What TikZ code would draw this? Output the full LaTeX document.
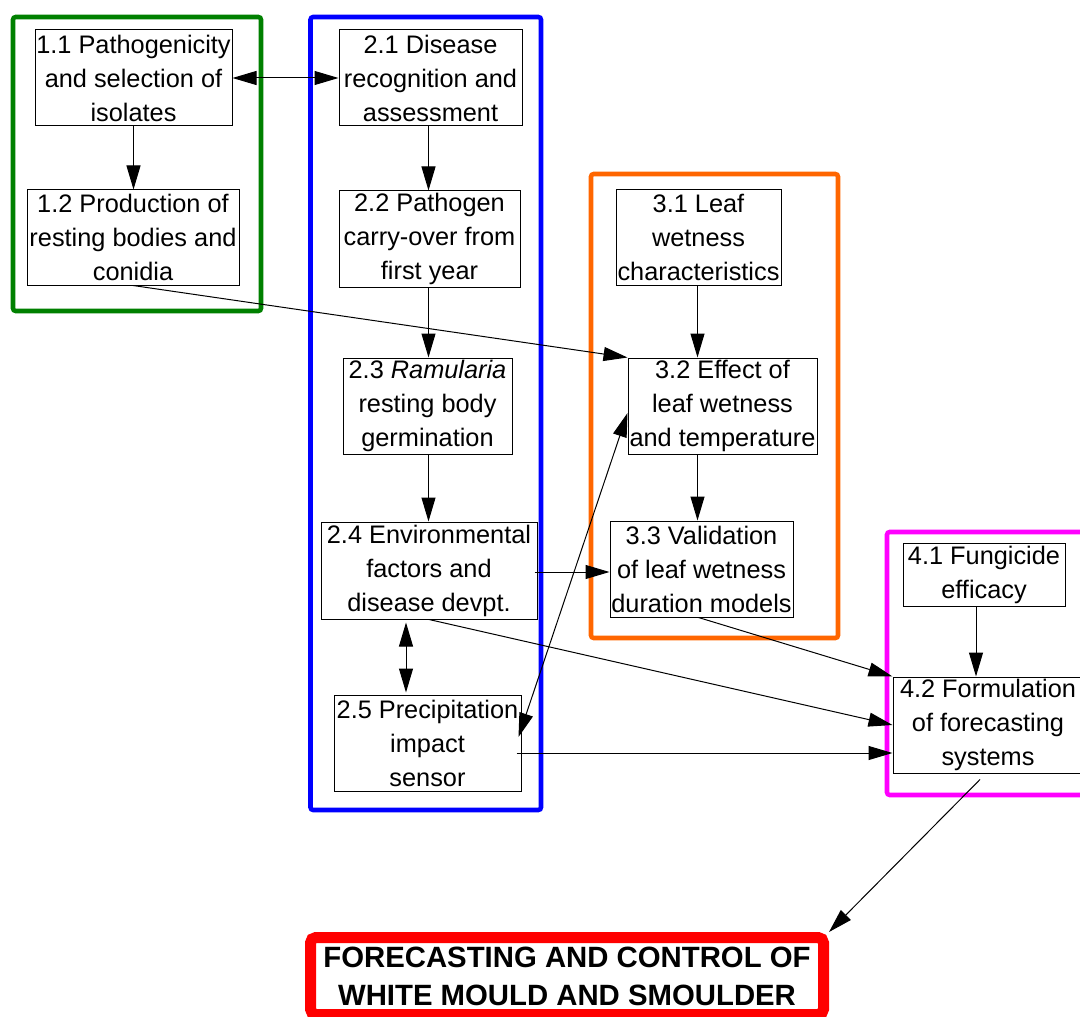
\documentclass[tikz,border=0pt]{standalone}
\usepackage{fontspec}
\setmainfont{Liberation Sans}
\usetikzlibrary{arrows.meta,calc}
\definecolor{fgreen}{RGB}{0,128,0}
\definecolor{fblue}{RGB}{0,0,255}
\definecolor{forange}{RGB}{255,102,0}
\definecolor{fmag}{RGB}{255,0,255}
\definecolor{fred}{RGB}{255,0,0}
\begin{document}
\begin{tikzpicture}[x=0.75pt,y=-0.75pt,
  bx/.style={draw, line width=0.75pt, inner sep=0pt, align=center, font=\fontsize{19pt}{25.5pt}\selectfont},
  frame/.style={line width=3.4pt, rounded corners=2pt},
  arr/.style={line width=0.75pt, -{Triangle[length=18pt,width=10.5pt]}},
  darr/.style={line width=0.75pt, {Triangle[length=18pt,width=10.5pt]}-{Triangle[length=18pt,width=10.5pt]}}]
\useasboundingbox (0,0) rectangle (1080,1016);
% group frames
\draw[frame, fgreen] (13,17) rectangle (261,311);
\draw[frame, fblue] (310.5,17) rectangle (541,810);
\draw[frame, forange] (591,174) rectangle (838,638);
\draw[frame, fmag] (887,532) rectangle (1100,795);
% nodes
\node[bx, minimum width=147.75pt, minimum height=72pt] (n11) at (133.5,78) {1.1 Pathogenicity\\and selection of\\isolates};
\node[bx, minimum width=159pt, minimum height=71.25pt] (n12) at (133,237.5) {1.2 Production of\\resting bodies and\\conidia};
\node[bx, minimum width=137.25pt, minimum height=72pt] (n21) at (430.5,78) {2.1 Disease\\recognition and\\assessment};
\node[bx, minimum width=135.75pt, minimum height=72pt] (n22) at (429.5,239) {2.2 Pathogen\\carry-over from\\first year};
\node[bx, minimum width=126.75pt, minimum height=72pt] (n23) at (427.5,406) {2.3 \textit{Ramularia}\\resting body\\germination};
\node[bx, minimum width=162pt, minimum height=72.75pt] (n24) at (429,570.5) {2.4 Environmental\\factors and\\disease devpt.};
\node[bx, minimum width=140.25pt, minimum height=72pt] (n25) at (427.5,743) {2.5 Precipitation\\impact\\sensor};
\node[bx, minimum width=123.75pt, minimum height=71.25pt] (n31) at (698.5,237.5) {3.1 Leaf\\wetness\\characteristics};
\node[bx, minimum width=141.75pt, minimum height=72pt] (n32) at (722.5,406) {3.2 Effect of\\leaf wetness\\and temperature};
\node[bx, minimum width=137.25pt, minimum height=72pt] (n33) at (701.5,569) {3.3 Validation\\of leaf wetness\\duration models};
\node[bx, minimum width=121.5pt, minimum height=47.25pt] (n41) at (984,574.5) {4.1 Fungicide\\efficacy};
\node[bx, minimum width=142.5pt, minimum height=72pt] (n42) at (988,725) {4.2 Formulation\\of forecasting\\systems};
\node[draw=fred, line width=8.25pt, rounded corners=4pt, minimum width=384.75pt, minimum height=57.75pt, inner sep=0pt, align=center, font=\bfseries\fontsize{22pt}{28.5pt}\selectfont] (title) at (567,976) {FORECASTING AND CONTROL OF\\WHITE MOULD AND SMOULDER};
% connectors
\draw[darr] (n11.east) -- (n21.west);
\draw[arr] (n11.south) -- (n11.south |- n12.north);
\draw[arr] ($(n21.south)+(-2,0)$) -- ($(n21.south |- n22.north)+(-2,0)$);
\draw[arr] ($(n22.south)+(-1,0)$) -- ($(n22.south |- n23.north)+(-1,0)$);
\draw[arr] ($(n23.south)+(1,0)$) -- ($(n23.south |- n24.north)+(1,0)$);
\draw[darr] ($(n24.south)+(-23,3)$) -- ($(n24.south |- n25.north)+(-23,-2)$);
\draw[arr] (n12.south) -- (n32.north west);
\draw[arr] ($(n31.south)+(-1,0)$) -- ($(n31.south |- n32.north)+(-1,0)$);
\draw[arr] ($(n31.south |- n32.south)+(-1,0)$) -- ($(n31.south |- n33.north)+(-1,0)$);
\draw[arr] ($(n24.east)+(-3,1.5)$) -- ($(n33.west)+(0,3)$);
\draw[darr] ($(n25.east)+(-3,-6)$) -- ($(n32.west)+(0,7)$);
\draw[arr] ($(n41.south)+(-8,0)$) -- ($(n41.south |- n42.north)+(-8,0)$);
\draw[arr] ($(n33.south)+(-3,0)$) -- (n42.north west);
\draw[arr] (n24.south) -- (n42.west);
\draw[arr] ($(n25.east)+(-5,10)$) -- ($(n42.west)+(0,28)$);
\draw[arr] ($(n42.south)+(-8,6)$) -- (title.north east);
\end{tikzpicture}
\end{document}
